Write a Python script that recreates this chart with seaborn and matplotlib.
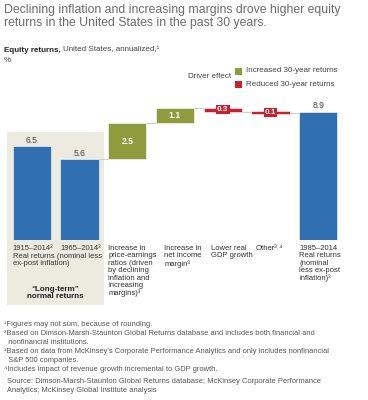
import numpy as np
import pandas as pd
import matplotlib.pyplot as plt
import seaborn as sns
from matplotlib.patches import Rectangle

# datos del gráfico
categories = ["1915-2014", "1965-2014", "pe_ratios", "net_margin", "gdp_growth", "other", "1985-2014"]
values = [6.5, 5.6, 2.5, 1.1, -0.3, -0.1, 8.9]
kinds = ["total", "total", "up", "up", "down", "down", "total"]
value_labels = ["6.5", "5.6", "2.5", "1.1", "0.3", "0.1", "8.9"]
cat_labels = [
    "1915–2014²",
    "1965–2014³",
    "Increase in\nprice-earnings\nratios (driven\nby declining\ninflation and\nincreasing\nmargins)³",
    "Increase in\nnet income\nmargin³",
    "Lower real\nGDP growth",
    "Other³˒⁴",
    "1985–2014\nReal returns\n(nominal\nless ex-post\ninflation)³",
]
shared_label = "Real returns (nominal less\nex-post inflation)"
footnotes = [
    "¹Figures may not sum, because of rounding.",
    "²Based on Dimson-Marsh-Staunton Global Returns database and includes both financial and",
    "  nonfinancial institutions.",
    "³Based on data from McKinsey’s Corporate Performance Analytics and only includes nonfinancial",
    "  S&P 500 companies.",
    "⁴Includes impact of revenue growth incremental to GDP growth.",
]
source = "Source: Dimson-Marsh-Staunton Global Returns database; McKinsey Corporate Performance\nAnalytics; McKinsey Global Institute analysis"

colors = {"total": "#2F6FB2", "up": "#8E9C3E", "down": "#C91F2E"}
W, H = 368, 400
FONT = ["Liberation Sans", "DejaVu Sans"]


def px(x, y):
    return x / W, 1 - y / H


def main():
    sns.set_style("white")
    plt.rcParams["font.family"] = FONT

    fig = plt.figure(figsize=(W / 100, H / 100), dpi=100)
    ax = fig.add_axes([8 / W, 0.4, 334 / W, 0.36])
    ax.set_facecolor("none")

    # fondo beige "long-term"
    x0, y0 = px(7, 305)
    x1, y1 = px(104, 132)
    fig.patches.append(Rectangle((x0, y0), x1 - x0, y1 - y0, transform=fig.transFigure,
                                 facecolor="#EDEAE0", edgecolor="none", zorder=-1))

    # bases de la cascada
    bottoms, tops = [], []
    running = values[1]
    for v, k in zip(values, kinds):
        if k == "total":
            bottoms.append(0.0)
            tops.append(v)
        else:
            start = running
            running = running + v
            bottoms.append(min(start, running))
            tops.append(max(start, running))
    heights = [t - b for t, b in zip(tops, bottoms)]

    df = pd.DataFrame({"cat": categories, "h": heights})
    sns.barplot(data=df, x="cat", y="h", order=categories, color=colors["total"],
                width=0.8, ax=ax, saturation=1)

    for i, bar in enumerate(ax.containers[0]):
        h = heights[i]
        b = bottoms[i]
        if kinds[i] == "down" and h < 0.22:
            mid = b + h / 2
            h = 0.22
            b = mid - h / 2
        bar.set_y(b)
        bar.set_height(h)
        bar.set_facecolor(colors[kinds[i]])
        bar.set_edgecolor("white")
        bar.set_linewidth(0.4)

    # líneas conectoras
    ends = [values[1]]
    for i in range(2, len(values) - 1):
        ends.append(ends[-1] + values[i])
    for j, lvl in enumerate(ends):
        i = j + 1
        ax.plot([i + 0.4, i + 0.6], [lvl, lvl], color="#CFCFCF", lw=0.8, zorder=0)

    # etiquetas de valor
    for i, lab in enumerate(value_labels):
        if kinds[i] == "total":
            ax.text(i, tops[i] + 0.1, lab, ha="center", va="bottom", fontsize=6.2, color="#444444")
        elif kinds[i] == "up":
            ax.text(i, (tops[i] + bottoms[i]) / 2, lab, ha="center", va="center", fontsize=6.2,
                    color="white", fontweight="bold")
        else:
            ax.text(i, (tops[i] + bottoms[i]) / 2, lab, ha="center", va="center", fontsize=5.8,
                    color="white", fontweight="bold",
                    bbox=dict(boxstyle="square,pad=0.15", facecolor=colors["down"], edgecolor="none"))

    ax.set_xlim(-0.5, len(categories) - 0.5)
    ax.set_ylim(0, 10)
    ax.set_xticks([])
    ax.set_yticks([])
    ax.set_xlabel("")
    ax.set_ylabel("")
    sns.despine(ax=ax, left=True, bottom=True)

    # textos de categoría
    offsets = [0, 0, 0, 0.17, 0.15, 0.1, 0]
    for i, lab in enumerate(cat_labels):
        ax.text(i - 0.4 + offsets[i], -0.35, lab, ha="left", va="top", fontsize=5.5,
                color="#333333", linespacing=1.08, clip_on=False)
    fig.text(*px(13, 253), shared_label, ha="left", va="top", fontsize=5.5,
             color="#333333", linespacing=1.08)
    fx, fy = px(55, 286)
    fig.text(fx, fy, "“Long-term”\nnormal returns", ha="center", va="top", fontsize=5.8,
             fontweight="bold", color="#222222", linespacing=1.1)

    # título y subtítulo
    fig.text(*px(4, 4), "Declining inflation and increasing margins drove higher equity\n"
             "returns in the United States in the past 30 years.", ha="left", va="top",
             fontsize=8.8, color="#6B6B6B", linespacing=1.12)
    fig.text(*px(4, 50), "Equity returns,", ha="left", va="center", fontsize=5.8,
             fontweight="bold", color="#222222")
    fig.text(*px(63, 50), "United States, annualized,¹", ha="left", va="center", fontsize=5.8,
             color="#444444")
    fig.text(*px(4, 60), "%", ha="left", va="center", fontsize=5.8, color="#444444")

    # leyenda
    fig.text(*px(231, 77), "Driver effect", ha="right", va="center", fontsize=5.8, color="#444444")
    for yy, k, lab in [(71, "up", "Increased 30-year returns"), (84, "down", "Reduced 30-year returns")]:
        rx, ry = px(235, yy + 4)
        fig.patches.append(Rectangle((rx, ry), 7 / W, 7 / H, transform=fig.transFigure,
                                     facecolor=colors[k], edgecolor="none"))
        fig.text(*px(246, yy), lab, ha="left", va="center", fontsize=5.8, color="#444444")

    # notas al pie
    for n, line in enumerate(footnotes):
        fig.text(*px(4, 325 + n * 8.9), line, ha="left", va="center", fontsize=5.4, color="#555555")
    fig.text(*px(7, 378), source, ha="left", va="top", fontsize=5.4, color="#555555",
             linespacing=1.3)

    fig.savefig("out.png", dpi=100)


if __name__ == "__main__":
    main()
